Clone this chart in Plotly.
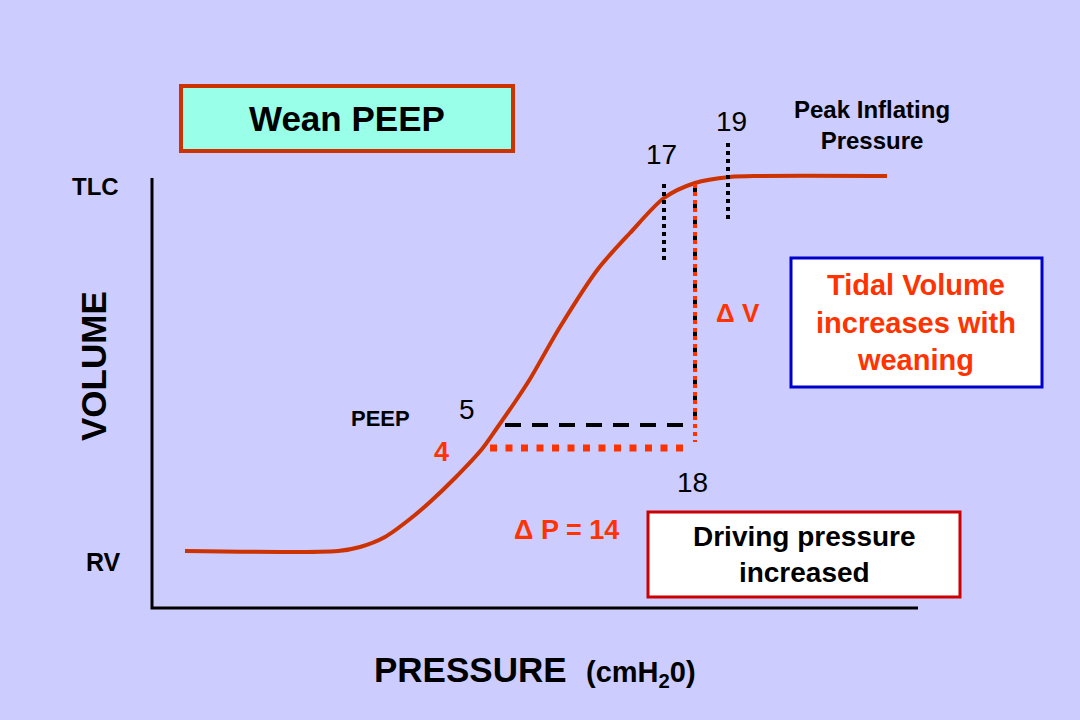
import plotly.graph_objects as go

# ---- data (schematic units: x = pressure axis position, y = volume axis position, screen-like) ----
curve_x = [185, 338, 360, 385, 410, 430, 455, 482, 497, 515, 530, 560, 598, 630, 664, 695, 730, 760, 887]
curve_y = [551, 551, 547, 537, 519, 502, 478, 449, 428, 402, 379, 327, 269, 233, 198, 183, 177, 176, 176]

axis_x = [152, 152, 918]
axis_y = [178, 608, 608]

peep5_x = [505, 690]
peep5_y = [425, 425]
peep4_x = [490, 690]
peep4_y = [448, 448]

vt_x = [695, 695]
vt_black_y = [184, 425]
vt_red_y = [184, 442]

p17_x = [664, 664]
p17_y = [184, 260]
p19_x = [728, 728]
p19_y = [143, 220]

BG = "#CCCCFF"
CURVE = "#CC3300"
RED = "#FF3300"
FONT = "Liberation Sans, Arial, sans-serif"

fig = go.Figure()

# axes
fig.add_trace(go.Scatter(x=axis_x, y=axis_y, mode="lines",
                         line=dict(color="black", width=3), hoverinfo="skip"))
# pressure-volume curve
fig.add_trace(go.Scatter(x=curve_x, y=curve_y, mode="lines",
                         line=dict(color=CURVE, width=4, shape="spline", smoothing=0.8),
                         hoverinfo="skip"))
# PEEP 5 dashed black
fig.add_trace(go.Scatter(x=peep5_x, y=peep5_y, mode="lines",
                         line=dict(color="black", width=4, dash="16px,11px"), hoverinfo="skip"))
# PEEP 4 dotted red
fig.add_trace(go.Scatter(x=peep4_x, y=peep4_y, mode="lines",
                         line=dict(color=RED, width=7, dash="7px,8.5px"), hoverinfo="skip"))
# vertical delta V lines
fig.add_trace(go.Scatter(x=vt_x, y=vt_black_y, mode="lines",
                         line=dict(color="black", width=4, dash="8px,8px"), hoverinfo="skip"))
fig.add_trace(go.Scatter(x=vt_x, y=vt_red_y, mode="lines",
                         line=dict(color=RED, width=4, dash="4px,4px"), hoverinfo="skip"))
# 17 and 19 dotted markers
fig.add_trace(go.Scatter(x=p17_x, y=p17_y, mode="lines",
                         line=dict(color="black", width=4, dash="4px,4px"), hoverinfo="skip"))
fig.add_trace(go.Scatter(x=p19_x, y=p19_y, mode="lines",
                         line=dict(color="black", width=4, dash="4px,4px"), hoverinfo="skip"))

shapes = [
    dict(type="rect", xref="x", yref="y", x0=181, y0=86, x1=513, y1=151,
         fillcolor="#99FFE8", line=dict(color=CURVE, width=4), layer="below"),
    dict(type="rect", xref="x", yref="y", x0=791, y0=258, x1=1042, y1=387,
         fillcolor="white", line=dict(color="#0000CC", width=3), layer="below"),
    dict(type="rect", xref="x", yref="y", x0=648, y0=512, x1=960, y1=597,
         fillcolor="white", line=dict(color="#CC0000", width=3), layer="below"),
]

def ann(x, y, text, size, color="black", bold=True, angle=0):
    t = f"<b>{text}</b>" if bold else text
    return dict(x=x, y=y, xref="x", yref="y", text=t, showarrow=False,
                font=dict(family=FONT, size=size, color=color),
                xanchor="center", yanchor="middle", textangle=angle, align="center")

annotations = [
    ann(347, 118, "Wean PEEP", 35),
    ann(872, 125, "Peak Inflating<br>Pressure", 24),
    ann(731, 121, "19", 28, bold=False),
    ann(661, 154, "17", 28, bold=False),
    ann(95, 186, "TLC", 24),
    ann(93, 366, "VOLUME", 35, angle=-90),
    ann(916, 322, "Tidal Volume<br>increases with<br>weaning", 29, color=RED),
    ann(738, 313, "Δ V", 26, color=RED),
    ann(467, 409, "5", 28, bold=False),
    ann(380, 418, "PEEP", 22),
    ann(441, 452, "4", 27, color=RED),
    ann(692, 482, "18", 28, bold=False),
    ann(566, 530, "Δ P = 14", 27, color=RED),
    ann(804, 554, "Driving pressure<br>increased", 28),
    ann(103, 562, "RV", 25),
    ann(470, 669, "PRESSURE", 35),
    ann(641, 674, "(cmH<sub>2</sub>0)", 29),
]

fig.update_layout(
    width=1080, height=720,
    margin=dict(l=0, r=0, t=0, b=0),
    paper_bgcolor=BG, plot_bgcolor=BG,
    showlegend=False,
    xaxis=dict(range=[0, 1080], visible=False, fixedrange=True),
    yaxis=dict(range=[720, 0], visible=False, fixedrange=True),
    shapes=shapes,
    annotations=annotations,
)

fig.write_html(
    "out.html",
    config={"displayModeBar": False},
    post_script="document.body.style.margin='0';document.body.style.padding='0';"
                "document.body.style.background='#CCCCFF';",
)
